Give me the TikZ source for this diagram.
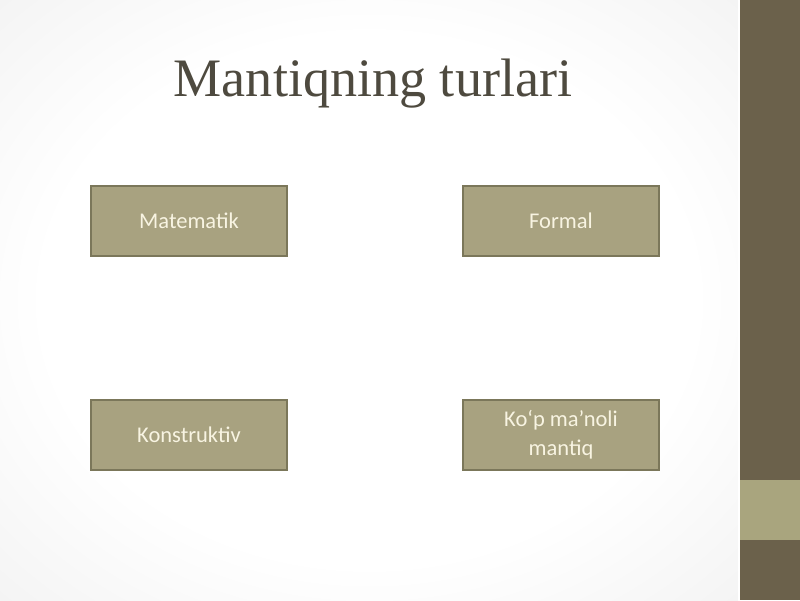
\documentclass[tikz,border=0pt]{standalone}
\usepackage{fontspec}
\setmainfont{Liberation Serif}
\newfontfamily\boxfont{Carlito}
\usetikzlibrary{positioning}

\definecolor{sidebar}{HTML}{6B614B}
\definecolor{sideband}{HTML}{A9A57E}
\definecolor{boxfill}{HTML}{A8A280}
\definecolor{boxline}{HTML}{7B775A}
\definecolor{boxtext}{HTML}{F8F4E2}
\definecolor{titletext}{HTML}{4E4A3F}

\pgfdeclareradialshading{slidebg}{\pgfpoint{0bp}{0bp}}{color(0bp)=(white); color(22bp)=(white); color(50bp)=(black!9); color(72bp)=(black!14)}

\tikzset{
  typebox/.style={draw=boxline, line width=1pt, fill=boxfill,
    minimum width=4.9cm, minimum height=1.75cm, inner sep=0pt,
    align=center, text=boxtext, font=\boxfont\fontsize{16}{20.5}\selectfont},
  slidetitle/.style={text=titletext, inner sep=0pt, font=\fontsize{38.5}{44}\selectfont}
}

\begin{document}
\begin{tikzpicture}[x=0.025cm, y=-0.025cm]
  \useasboundingbox (0,0) rectangle (800,600);

  % slide background and side bar
  \shade[shading=slidebg] (0,0) rectangle (738,600);
  \fill[white] (738,0) rectangle (740,600);
  \fill[sidebar] (740,0) rectangle (800,600);
  \fill[sideband] (740,480) rectangle (800,540);

  \node[slidetitle, anchor=base] (title) at (373,96) {Mantiqning turlari};

  % the four kinds
  \foreach \name/\x/\y/\txt in {mat/189/221/Matematik, form/561/221/Formal,
      konst/189/435/Konstruktiv, kop/561/435/{\raisebox{-3pt}{Ko‘p ma’noli}\\\raisebox{-3pt}{mantiq}}}
    \node[typebox] (\name) at (\x,\y) {\txt};
\end{tikzpicture}
\end{document}
